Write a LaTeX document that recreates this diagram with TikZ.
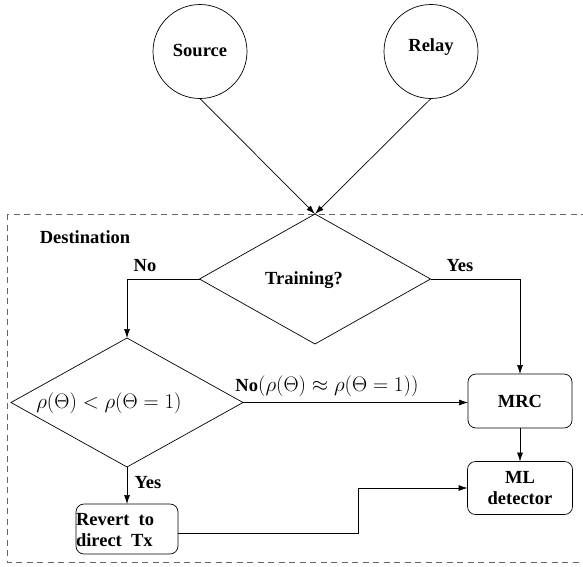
\RequirePackage{fix-cm}
\documentclass[tikz,border=0pt]{standalone}
\usepackage{fontspec}
\setmainfont{Liberation Serif}
\usetikzlibrary{shapes.geometric,arrows.meta,calc}
\begin{document}
\begin{tikzpicture}[x=1pt,y=-1pt,
  every node/.style={font=\fontsize{18.5}{20.5}\selectfont\bfseries, inner sep=0pt, outer sep=0pt},
  circ/.style={draw, circle, minimum size=94pt, line width=0.7pt},
  diam/.style={draw, diamond, minimum width=231pt, minimum height=130pt, line width=0.7pt},
  rbox/.style={draw, rounded corners=8pt, line width=0.7pt, align=center},
  arr/.style={line width=0.7pt, -{Latex[length=9pt,width=6pt]}},
  mth/.style={font=\fontsize{21}{24}\selectfont}
]
\useasboundingbox (0,0) rectangle (583,566);
\begin{scope}
\clip (0,0) rectangle (583,566);
\draw[dashed, dash pattern=on 6pt off 4.5pt, line width=0.6pt, gray!80!black] (7,214) rectangle (600,562);
\end{scope}

\node[circ] (src) at (200,51.5) {};
\node at (200,50) {Source};
\node[circ] (rel) at (431,51.5) {};
\node at (431,47) {Relay};

\node at (85,237) {Destination};

\node[diam] (t) at (315,279) {};
\node at (304,280) {Training?};

\node[diam, minimum height=129pt, minimum width=232pt] (d) at (127,402.5) {};
\node[mth] at (109,403) {$\rho(\Theta) < \rho(\Theta = 1)$};

\node[rbox, minimum width=104pt, minimum height=54pt] (mrc) at (520,401) {MRC};
\node[rbox, minimum width=105pt, minimum height=53pt] (ml) at (520,488) {ML\\detector};
\node[rbox, minimum width=102pt, minimum height=50pt] (rev) at (127,529) {};
\node[align=left, anchor=west] at (76,530) {Revert~ to\\direct~ Tx};

\coordinate (bx) at (358,500);

\draw[arr] (src.south) -- (t.north);
\draw[arr] (rel.south) -- (t.north);
\draw[arr] (t.west) -| (d.north);
\node at (145,266) {No};
\draw[arr] (t.east) -| (mrc.north);
\node at (460,266) {Yes};
\draw[arr] (d.east) -- (d.east -| mrc.west);
\node at (327,386) {No\fontsize{21}{24}\selectfont$(\rho(\Theta) \approx \rho(\Theta = 1))$};
\draw[arr] (mrc.south) -- (ml.north);
\draw[arr] (d.south) -- (rev.north);
\node at (148,483) {Yes};
\draw[arr] ($(rev.east)+(0,4)$) -- ($(rev.east -| bx)+(0,4)$) |- (ml.west);
\end{tikzpicture}
\end{document}
